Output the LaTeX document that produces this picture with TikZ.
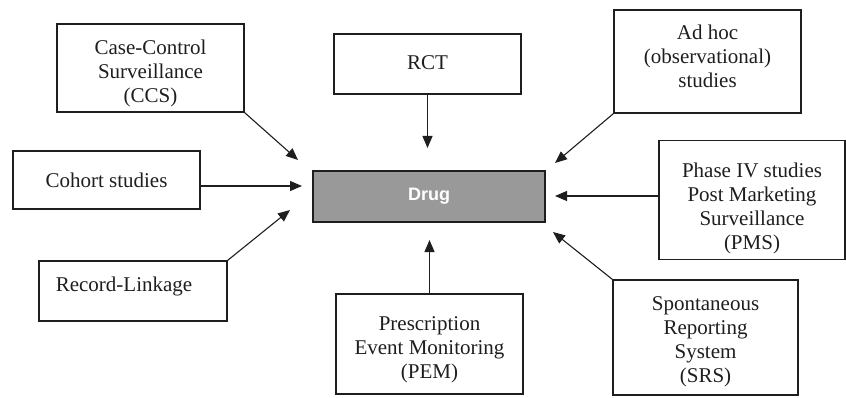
\documentclass[tikz,border=0pt]{standalone}
\usepackage{fontspec}
\setmainfont{Liberation Serif}
\newfontfamily\drugfont{Liberation Sans}
\usetikzlibrary{arrows.meta}
\definecolor{druggray}{RGB}{153,153,153}
\definecolor{inkc}{RGB}{30,30,30}
\begin{document}
\begin{tikzpicture}[x=1pt,y=-1pt,
  box/.style={draw=inkc,line width=1.1pt,rectangle,inner sep=0pt},
  txt/.style={align=center,inner sep=0pt,font=\fontsize{21}{24}\selectfont,text=inkc},
  conn/.style={draw=inkc,line width=1.1pt,-{Triangle[length=12pt,width=10pt]}}]
\useasboundingbox (0,0) rectangle (846,398);
% central node
\node[draw=inkc,line width=1.1pt,fill=druggray,minimum width=232,minimum height=51,
  text=white,font=\drugfont\bfseries\fontsize{18}{21}\selectfont] (drug) at (429,196.5) {Drug};
% boxes
\node[box,minimum width=187,minimum height=88] (ccs) at (150.5,68) {};
\node[box,minimum width=187,minimum height=58] (cohort) at (106.5,180) {};
\node[box,minimum width=188,minimum height=60] (rl) at (133,291) {};
\node[box,minimum width=187,minimum height=60] (rct) at (427.5,64) {};
\node[box,minimum width=187,minimum height=100] (pem) at (429.5,344) {};
\node[box,minimum width=187,minimum height=103] (adhoc) at (707.5,61.5) {};
\node[box,minimum width=186,minimum height=119] (phase) at (752,200) {};
\node[box,minimum width=185,minimum height=115] (srs) at (705.5,337.5) {};
% texts
\node[txt] (ccst) at (150.5,73) {Case-Control\\Surveillance\\(CCS)};
\node[txt] (cohortt) at (106.5,180) {Cohort studies};
\node[txt] (rlt) at (124,286) {Record-Linkage};
\node[txt] (rctt) at (427.5,63) {RCT};
\node[txt] (pemt) at (429.5,350) {Prescription\\Event Monitoring\\(PEM)};
\node[txt] (adhoct) at (707.5,56) {Ad hoc\\(observational)\\studies};
\node[txt] (phaset) at (752,208) {Phase IV studies\\Post Marketing\\Surveillance\\(PMS)};
\node[txt] (srst) at (705.5,341.5) {Spontaneous\\Reporting\\System\\(SRS)};
% arrow tips
\coordinate (tccs) at (298,160);
\coordinate (tcoh) at (302,186);
\coordinate (trl) at (290,210);
\coordinate (trct) at (427.5,148);
\coordinate (tpem) at (429.5,240);
\coordinate (tadh) at (555,163);
\coordinate (tpha) at (555,196);
\coordinate (tsrs) at (553,232);
% connectors
\draw[conn] (ccs.south east) -- (tccs);
\draw[conn] (cohort.east |- tcoh) -- (tcoh);
\draw[conn] (rl.north east) -- (trl);
\draw[conn] (rct.south) -- (trct);
\draw[conn] (pem.north) -- (tpem);
\draw[conn] (adhoc.south west) -- (tadh);
\draw[conn] (phase.west |- tpha) -- (tpha);
\draw[conn] (srs.north west) -- (tsrs);
\end{tikzpicture}
\end{document}
